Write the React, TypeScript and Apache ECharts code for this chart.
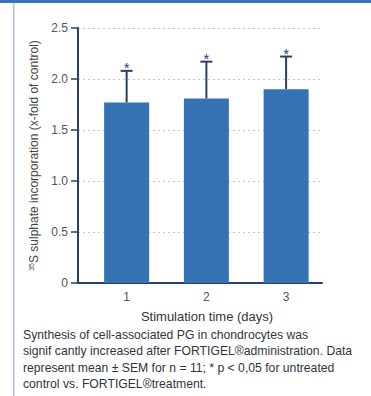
import React, { useEffect, useRef } from "react";
import * as echarts from "echarts";

// Stimulation time (days) on the x axis
const days = [1, 2, 3];
// Mean 35S sulphate incorporation, x-fold of untreated control
const means = [1.77, 1.81, 1.9];
// Upper SEM bound for each day
const upper = [2.08, 2.17, 2.22];
// * p < 0.05 vs. untreated control
const significant = [true, true, true];
// y-axis ticks
const yMin = 0;
const yMax = 2.5;
const yStep = 0.5;

const captionLines = [
  "Synthesis of cell-associated PG in chondrocytes was",
  "signif cantly increased after FORTIGEL®administration. Data",
  "represent mean ± SEM for n = 11; * p < 0,05 for untreated",
  "control vs. FORTIGEL®treatment.",
];

const NAVY = "#2c3f63";
const BAR = "#3673b5";
const FONT = "Liberation Sans, Arial, sans-serif";

export default function App() {
  const ref = useRef<HTMLDivElement>(null);

  useEffect(() => {
    if (!ref.current) return;
    const chart = echarts.init(ref.current, null, { renderer: "svg" });

    const barData = days.map((d, i) => [d, means[i]]);
    const errData = days.map((d, i) => [d, means[i], upper[i], significant[i] ? 1 : 0]);

    chart.setOption({
      animation: false,
      backgroundColor: "#ffffff",
      textStyle: { fontFamily: FONT },
      grid: { left: 78, top: 28, width: 244, height: 255, containLabel: false },
      xAxis: {
        type: "value",
        min: 0.39,
        max: 3.45,
        name: "Stimulation time (days)",
        nameLocation: "middle",
        nameGap: 27,
        nameTextStyle: { color: "#333", fontSize: 13, padding: [0, 0, 0, 14] },
        axisLine: { show: true, onZero: false, lineStyle: { color: NAVY, width: 2 } },
        axisTick: { show: false },
        splitLine: { show: false },
        axisLabel: {
          color: "#555",
          fontSize: 12,
          margin: 8,
          showMinLabel: false,
          showMaxLabel: false,
          formatter: (v: number) => (Math.abs(v - Math.round(v)) < 1e-6 ? String(Math.round(v)) : ""),
        },
      },
      yAxis: {
        type: "value",
        min: yMin,
        max: yMax,
        interval: yStep,
        name: "{sup|35}S sulphate incorporation (x-fold of control)",
        nameLocation: "middle",
        nameGap: 37,
        nameTextStyle: {
          color: "#444",
          fontSize: 12,
          rich: { sup: { fontSize: 7, verticalAlign: "top", color: "#444" } },
        },
        axisLine: { show: true, lineStyle: { color: NAVY, width: 2 } },
        axisTick: { show: true, length: 7, lineStyle: { color: NAVY, width: 1.5 } },
        axisLabel: {
          color: "#555",
          fontSize: 12,
          margin: 10,
          formatter: (v: number) => (v === 0 ? "0" : v.toFixed(1)),
        },
        splitLine: { show: true, lineStyle: { color: "#c4c4c4", type: [2, 3], width: 1 } },
      },
      series: [
        {
          type: "bar",
          data: barData,
          barWidth: 45,
          itemStyle: { color: BAR },
        },
        {
          type: "custom",
          data: errData,
          encode: { x: 0, y: [1, 2] },
          z: 5,
          renderItem: (params: any, api: any) => {
            const x = api.value(0);
            const base = api.coord([x, api.value(1)]);
            const top = api.coord([x, api.value(2)]);
            const children: any[] = [
              {
                type: "line",
                shape: { x1: top[0], y1: base[1], x2: top[0], y2: top[1] },
                style: { stroke: NAVY, lineWidth: 2 },
              },
              {
                type: "line",
                shape: { x1: top[0] - 6, y1: top[1], x2: top[0] + 6, y2: top[1] },
                style: { stroke: NAVY, lineWidth: 2 },
              },
            ];
            if (api.value(3)) {
              children.push({
                type: "text",
                x: top[0],
                y: top[1] + 4,
                style: {
                  text: "*",
                  fill: NAVY,
                  font: `15px ${FONT}`,
                  align: "center",
                  verticalAlign: "bottom",
                },
              });
            }
            return { type: "group", children };
          },
        },
      ],
      graphic: [
        { type: "rect", left: 0, top: 0, shape: { width: 371, height: 3 }, style: { fill: "#3b74b6" } },
        { type: "rect", left: 13, top: 3, shape: { width: 1.5, height: 393 }, style: { fill: "#a9c2e0" } },
        {
          type: "text",
          left: 23,
          top: 327,
          style: {
            text: captionLines.join("\n"),
            fill: "#2f3540",
            font: `12.2px ${FONT}`,
            lineHeight: 16.3,
          },
        },
      ],
    });

    return () => chart.dispose();
  }, []);

  return (
    <div
      ref={ref}
      style={{ position: "fixed", left: 0, top: 0, width: 371, height: 396, background: "#fff" }}
    />
  );
}
